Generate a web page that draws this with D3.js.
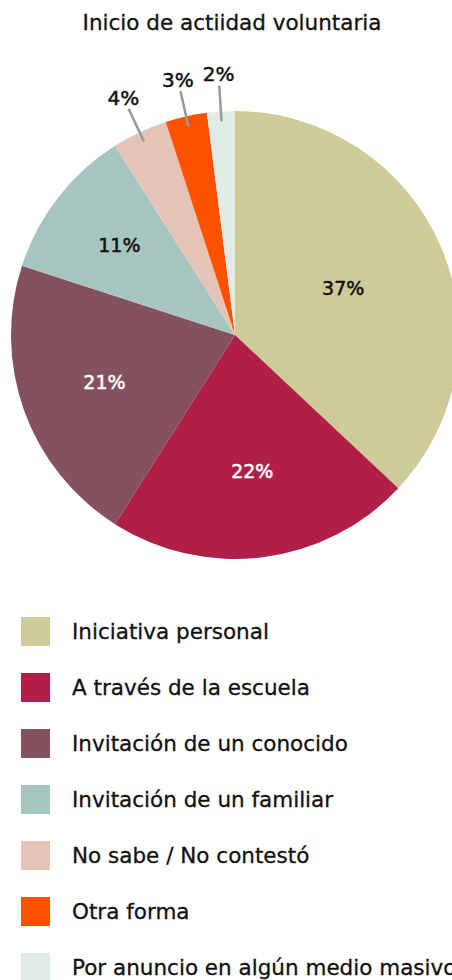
<!DOCTYPE html>
<html>
<head>
<meta charset="utf-8">
<script src="https://cdn.jsdelivr.net/npm/d3@7"></script>
<style>
  html, body { margin: 0; padding: 0; background: #ffffff; overflow: hidden; }
  svg { display: block; }
  text { font-family: "DejaVu Sans", "Open Sans", sans-serif; }
</style>
</head>
<body>
<svg id="chart" width="452" height="980"></svg>
<script>
// ---- data ----
const title = "Inicio de actiidad voluntaria";
const categories = [
  "Iniciativa personal",
  "A través de la escuela",
  "Invitación de un conocido",
  "Invitación de un familiar",
  "No sabe / No contestó",
  "Otra forma",
  "Por anuncio en algún medio masivo"
];
const values = [37, 22, 21, 11, 4, 3, 2];
const colors = ["#cecb99", "#af1f48", "#83525e", "#a6c5be", "#e3c4b7", "#ff5200", "#e1ebe8"];
const labelColors = ["#111111", "#ffffff", "#ffffff", "#111111", "#111111", "#111111", "#111111"];
const outsideThreshold = 5; // slices below this % get an outside label

// ---- layout ----
const W = 452, H = 980;
const cx = 235, cy = 335, R = 224;
const svg = d3.select("#chart");

svg.append("text")
  .attr("x", 232).attr("y", 30)
  .attr("text-anchor", "middle")
  .attr("font-size", 21.5)
  .attr("fill", "#111")
  .attr("stroke", "#111").attr("stroke-width", 0.3)
  .text(title);

const data = categories.map((c, i) => ({ name: c, value: values[i], color: colors[i], lc: labelColors[i] }));
const pie = d3.pie().sort(null).value(d => d.value);
const arcs = pie(data);
const arc = d3.arc().innerRadius(0).outerRadius(R);

const g = svg.append("g").attr("transform", `translate(${cx},${cy})`);
g.selectAll("path.slice").data(arcs).enter().append("path")
  .attr("class", "slice")
  .attr("d", arc)
  .attr("fill", d => d.data.color);

function midAngle(d) { return (d.startAngle + d.endAngle) / 2; }
function polar(r, a) { return [r * Math.sin(a), -r * Math.cos(a)]; }

// inside labels at the area centroid of the sector
const inside = arcs.filter(d => d.data.value >= outsideThreshold);
g.selectAll("text.in").data(inside).enter().append("text")
  .attr("class", "in")
  .attr("transform", d => {
    const alpha = d.endAngle - d.startAngle;
    const rc = 4 * R * Math.sin(alpha / 2) / (3 * alpha);
    const p = polar(rc, midAngle(d));
    return `translate(${p[0]},${p[1]})`;
  })
  .attr("text-anchor", "middle")
  .attr("dy", "0.36em")
  .attr("font-size", 19)
  .attr("fill", d => d.data.lc)
  .attr("stroke", d => d.data.lc).attr("stroke-width", 0.5)
  .text(d => d.data.value + "%");

// outside labels with leader lines
const outside = arcs.filter(d => d.data.value < outsideThreshold);
g.selectAll("line.lead").data(outside).enter().append("line")
  .attr("class", "lead")
  .attr("x1", d => polar(R - 10, midAngle(d))[0])
  .attr("y1", d => polar(R - 10, midAngle(d))[1])
  .attr("x2", d => polar(R + 26, midAngle(d))[0])
  .attr("y2", d => polar(R + 26, midAngle(d))[1])
  .attr("stroke", "#999999")
  .attr("stroke-width", 2.5);
g.selectAll("text.out").data(outside).enter().append("text")
  .attr("class", "out")
  .attr("transform", d => {
    const p = polar(R + 38, midAngle(d));
    return `translate(${p[0]},${p[1]})`;
  })
  .attr("text-anchor", "middle")
  .attr("dy", "0.36em")
  .attr("font-size", 20)
  .attr("fill", "#111")
  .attr("stroke", "#111").attr("stroke-width", 0.5)
  .text(d => d.data.value + "%");

// ---- legend ----
const legend = svg.append("g").attr("transform", "translate(21,617)");
const item = legend.selectAll("g.item").data(data).enter().append("g")
  .attr("class", "item")
  .attr("transform", (d, i) => `translate(0,${i * 56})`);
item.append("rect")
  .attr("width", 29).attr("height", 29)
  .attr("fill", d => d.color);
item.append("text")
  .attr("x", 51).attr("y", 21.5)
  .attr("font-size", 21.5)
  .attr("fill", "#111")
  .attr("stroke", "#111").attr("stroke-width", 0.3)
  .text(d => d.name);
</script>
</body>
</html>
